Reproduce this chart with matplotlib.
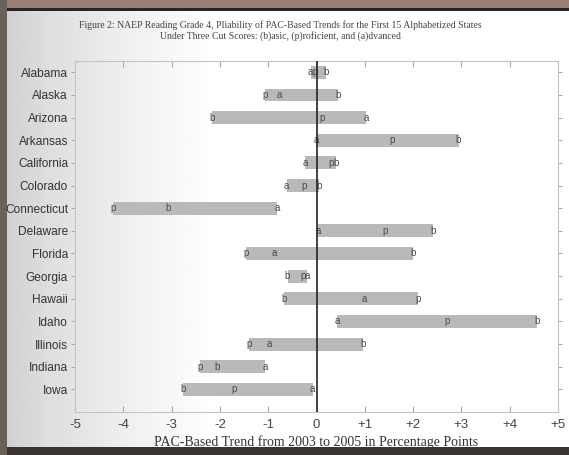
import numpy as np
import matplotlib.pyplot as plt
from matplotlib.patches import Rectangle

states = ["Alabama", "Alaska", "Arizona", "Arkansas", "California", "Colorado",
          "Connecticut", "Delaware", "Florida", "Georgia", "Hawaii", "Idaho",
          "Illinois", "Indiana", "Iowa"]

# trend under each cut score (percentage points)
basic = [0.19, 0.45, -2.16, 2.94, 0.41, 0.05, -3.08, 2.41, 2.00, -0.60, -0.68, 4.56, 0.96, -2.05, -2.77]
proficient = [-0.03, -1.07, 0.12, 1.56, 0.30, -0.25, -4.21, 1.42, -1.46, -0.27, 2.10, 2.71, -1.40, -2.42, -1.70]
advanced = [-0.12, -0.78, 1.03, 0.00, -0.23, -0.62, -0.82, 0.04, -0.88, -0.20, 1.00, 0.43, -0.97, -1.07, -0.08]

xticks = [-5, -4, -3, -2, -1, 0, 1, 2, 3, 4, 5]
xticklabels = ["-5", "-4", "-3", "-2", "-1", "0", "+1", "+2", "+3", "+4", "+5"]

fig = plt.figure(figsize=(5.69, 4.55), dpi=100)

# scanned page: grey shading on the left fading to white
bg = fig.add_axes([0, 0, 1, 1], zorder=0)
xs = np.linspace(0, 1, 300)
shade = 0.80 + 0.20 * np.clip(xs / 0.38, 0, 1) ** 0.7
shade = np.tile(shade, (10, 1))
bg.imshow(shade, cmap="gray", vmin=0, vmax=1, aspect="auto", extent=[0, 1, 0, 1])
bg.set_xlim(0, 1)
bg.set_ylim(0, 1)
bg.axis("off")
# dark edges of the scan
bg.add_patch(Rectangle((0, 1 - 9 / 455), 1, 9 / 455, color="#9a7f76", lw=0))
bg.add_patch(Rectangle((0, 1 - 11 / 455), 1, 3 / 455, color="#2a2524", lw=0))
bg.add_patch(Rectangle((0, 0), 1, 8 / 455, color="#3a3532", lw=0))
bg.add_patch(Rectangle((0, 0), 7 / 569, 1, color="#6a605a", lw=0))

ax = fig.add_axes([75 / 569, 43 / 455, 483 / 569, 351 / 455], zorder=1)
ax.patch.set_alpha(0)

y = np.arange(len(states))
for i in range(len(states)):
    vals = [basic[i], proficient[i], advanced[i]]
    lo, hi = min(vals), max(vals)
    ax.barh(y[i], hi - lo, left=lo, height=0.57, color="#b9b9b9", zorder=2)
    for v, ch in zip(vals, "bpa"):
        ax.text(v, y[i], ch, ha="center", va="center", fontsize=7,
                color="#4a4a4a", family="Liberation Sans", zorder=3)

ax.axvline(0, color="#222222", lw=1.2, zorder=4)

ax.set_xlim(-5, 5)
ax.set_ylim(15.0, -0.5)
ax.set_yticks(y)
ax.set_yticklabels(states, family="Liberation Sans", fontsize=8.6, color="#333333")
ax.set_xticks(xticks)
ax.set_xticklabels(xticklabels, family="Liberation Sans", fontsize=9.5, color="#444444")
ax.tick_params(axis="y", direction="out", length=3, color="#aaaaaa", pad=2)
ax.tick_params(axis="x", direction="in", length=4, color="#aaaaaa", pad=5,
               top=True)
ax.tick_params(axis="y", which="both", right=True)
for s in ax.spines.values():
    s.set_color("#c4c4c4")
    s.set_linewidth(0.8)

ax.set_xlabel("PAC-Based Trend from 2003 to 2005 in Percentage Points",
              family="Liberation Serif", fontsize=10, color="#333333", labelpad=3)

fig.text(0.492, 1 - 25 / 455,
         "Figure 2: NAEP Reading Grade 4, Pliability of PAC-Based Trends for the First 15 Alphabetized States",
         ha="center", va="center", family="Liberation Serif", fontsize=7, color="#444444")
fig.text(0.492, 1 - 36 / 455,
         "Under Three Cut Scores: (b)asic, (p)roficient, and (a)dvanced",
         ha="center", va="center", family="Liberation Serif", fontsize=7, color="#444444")

fig.savefig("out.png", dpi=100)
